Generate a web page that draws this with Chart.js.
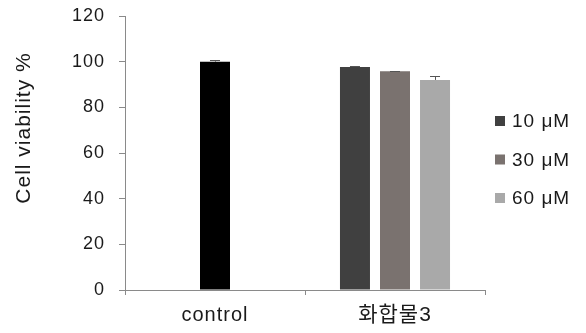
<!DOCTYPE html>
<html><head><meta charset="utf-8">
<script src="https://cdn.jsdelivr.net/npm/chart.js@4"></script>
<style>html,body{margin:0;padding:0;background:#fff}#wrap{width:586px;height:333px}</style>
</head><body><div id="wrap"><canvas id="c" width="586" height="333"></canvas></div>
<script>
const categories = ["control", "화합물3"];
const seriesNames = ["control", "10 μM", "30 μM", "60 μM"];
const controlValues = [100, null];
const values10 = [null, 97.7];
const values30 = [null, 95.8];
const values60 = [null, 92.0];
const controlErr = [0.6, null];
const err10 = [null, 0.5];
const err30 = [null, 0.3];
const err60 = [null, 1.7];
const yTicks = [0, 20, 40, 60, 80, 100, 120];
const yTitle = "Cell viability %";
const colors = ["#000000", "#404040", "#7a726f", "#a9a9a9"];
const FONT = "'Liberation Sans', Arial, 'Noto Sans CJK KR', sans-serif";
const TEXT = '#1a1a1a';

const allValues = [controlValues, values10, values30, values60];
const allErr = [controlErr, err10, err30, err60];

const spacingPlugin = {
  id: 'spacing',
  beforeLayout(chart) { chart.ctx.letterSpacing = '1px'; },
  beforeDraw(chart) { chart.ctx.letterSpacing = '1px'; }
};

const errorBarPlugin = {
  id: 'errbars',
  afterDatasetsDraw(chart) {
    const ctx = chart.ctx, y = chart.scales.y;
    ctx.save();
    ctx.strokeStyle = '#555';
    ctx.lineWidth = 1;
    chart.data.datasets.forEach((ds, di) => {
      const meta = chart.getDatasetMeta(di);
      meta.data.forEach((bar, i) => {
        const v = ds.data[i], e = allErr[di][i];
        if (v == null || e == null) return;
        const yTop = y.getPixelForValue(v + e);
        const yBar = y.getPixelForValue(v);
        ctx.beginPath();
        ctx.moveTo(Math.round(bar.x) + 0.5, yBar); ctx.lineTo(Math.round(bar.x) + 0.5, Math.round(yTop) + 0.5);
        ctx.moveTo(bar.x - 5, Math.round(yTop) + 0.5); ctx.lineTo(bar.x + 5, Math.round(yTop) + 0.5);
        ctx.stroke();
      });
    });
    ctx.restore();
  }
};

const titleLegendPlugin = {
  id: 'titleLegend',
  afterDraw(chart) {
    const ctx = chart.ctx;
    ctx.save();
    ctx.letterSpacing = '1px';
    ctx.fillStyle = TEXT;
    ctx.font = `21px ${FONT}`;
    ctx.translate(24, 128);
    ctx.rotate(-Math.PI / 2);
    ctx.textAlign = 'center';
    ctx.textBaseline = 'middle';
    ctx.fillText(yTitle, 0, 0);
    ctx.restore();
    ctx.save();
    ctx.letterSpacing = '1px';
    ctx.font = `19px ${FONT}`;
    ctx.textBaseline = 'middle';
    ctx.textAlign = 'left';
    const x0 = 495, y0 = 121, step = 38.5;
    for (let i = 1; i < seriesNames.length; i++) {
      const yc = y0 + (i - 1) * step;
      ctx.fillStyle = colors[i];
      ctx.fillRect(x0, yc - 5, 10, 10);
      ctx.fillStyle = TEXT;
      ctx.fillText(seriesNames[i], x0 + 17, yc + 1);
    }
    ctx.restore();
  }
};

new Chart(document.getElementById('c'), {
  type: 'bar',
  data: {
    labels: categories,
    datasets: allValues.map((d, i) => ({
      label: seriesNames[i],
      data: d,
      backgroundColor: colors[i],
      borderWidth: 0,
      categoryPercentage: 0.667,
      barPercentage: 0.75,
      maxBarThickness: 30,
      skipNull: true
    }))
  },
  options: {
    responsive: false,
    animation: false,
    skipNull: true,
    layout: { padding: { top: 16, right: 101, left: 0, bottom: 0 } },
    plugins: {
      tooltip: { enabled: false },
      legend: { display: false }
    },
    scales: {
      x: {
        afterFit(s) { s.height = 43; s.paddingLeft = 0; s.paddingRight = 0; },
        border: { color: '#8a8a8a', width: 1 },
        grid: { display: true, drawOnChartArea: false, offset: true, tickLength: 5, color: '#8a8a8a' },
        ticks: {
          color: TEXT,
          font: (c) => ({ family: FONT, size: c.index === 1 ? 21 : 20 }),
          padding: 8
        }
      },
      y: {
        min: 0, max: 120,
        afterFit(s) { s.width = 125; s.paddingTop = 0; s.paddingBottom = 0; },
        afterBuildTicks(s) { s.ticks = yTicks.map(v => ({ value: v })); },
        border: { color: '#8a8a8a', width: 1 },
        grid: { display: true, drawOnChartArea: false, tickLength: 6, color: '#8a8a8a' },
        ticks: { color: TEXT, font: { family: FONT, size: 18 }, padding: 14 }
      }
    }
  },
  plugins: [spacingPlugin, errorBarPlugin, titleLegendPlugin]
});
</script>
</body></html>
